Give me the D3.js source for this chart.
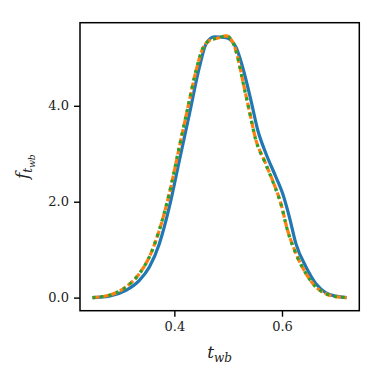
<!DOCTYPE html>
<html>
<head>
<meta charset="utf-8">
<script src="https://cdn.jsdelivr.net/npm/d3@7"></script>
<style>
  body { margin: 0; background: #fff; }
  text { font-family: "DejaVu Serif", "Liberation Serif", serif; }
</style>
</head>
<body>
<div id="chart"></div>
<script>
// t_wb grid and density values
let blueT = [0.248, 0.279, 0.310, 0.335, 0.3536, 0.372, 0.3907, 0.4093, 0.428, 0.4464, 0.4588, 0.4743, 0.496, 0.5145, 0.527, 0.5424, 0.555, 0.5703, 0.5889, 0.6012, 0.6137, 0.626, 0.6446, 0.663, 0.6817, 0.700, 0.72];
let blueF = [0, 0.03, 0.15, 0.36, 0.64, 1.12, 1.89, 2.86, 3.83, 4.8, 5.29, 5.44, 5.42, 5.22, 4.8, 4.11, 3.49, 3.0, 2.51, 2.17, 1.68, 1.12, 0.64, 0.29, 0.10, 0.03, 0];

let dashT = [0.248, 0.279, 0.310, 0.335, 0.3536, 0.372, 0.3907, 0.4093, 0.428, 0.4405, 0.4526, 0.465, 0.4836, 0.496, 0.5084, 0.5177, 0.527, 0.5393, 0.5517, 0.5672, 0.5826, 0.598, 0.6105, 0.626, 0.6446, 0.663, 0.6817, 0.700, 0.72];
let orangeF = [0, 0.05, 0.22, 0.5, 0.85, 1.40, 2.17, 3.14, 4.11, 4.74, 5.19, 5.36, 5.42, 5.46, 5.33, 5.01, 4.53, 3.90, 3.28, 2.86, 2.44, 1.96, 1.40, 0.92, 0.5, 0.22, 0.08, 0.02, 0];
let greenF = [0, 0.05, 0.22, 0.5, 0.85, 1.41, 2.18, 3.15, 4.12, 4.75, 5.19, 5.36, 5.42, 5.46, 5.33, 5.01, 4.52, 3.89, 3.27, 2.85, 2.43, 1.95, 1.39, 0.91, 0.5, 0.22, 0.08, 0.02, 0];

let xTicks = [0.4, 0.6];
let yTicks = [0, 2, 4];

let width = 382;
let height = 382;
let plotLeft = 80, plotRight = 359.3, plotTop = 22.7, plotBottom = 310.7;

let xScale = d3.scaleLinear().domain([0.2247, 0.7436]).range([plotLeft, plotRight]);
let yScale = d3.scaleLinear().domain([-0.273, 5.733]).range([plotBottom, plotTop]);

let svg = d3.select("#chart")
  .append("svg")
  .attr("width", width)
  .attr("height", height);

let line = d3.line()
  .x(d => xScale(d[0]))
  .y(d => yScale(d[1]))
  .curve(d3.curveMonotoneX);

/* curves */
let series = [
  { t: blueT, f: blueF, color: "#1f77b4", dash: null },
  { t: dashT, f: orangeF, color: "#ff7f0e", dash: "7,2.5" },
  { t: dashT, f: greenF, color: "#2ca02c", dash: "3,5" }
];

svg.append("g")
  .selectAll("path")
  .data(series)
  .enter()
  .append("path")
  .attr("d", s => line(s.t.map((t, i) => [t, s.f[i]])))
  .attr("fill", "none")
  .attr("stroke", s => s.color)
  .attr("stroke-width", 3.2)
  .attr("stroke-dasharray", s => s.dash);

/* axes */
let xAxis = d3.axisBottom(xScale).tickValues(xTicks).tickSizeOuter(0).tickSize(6).tickPadding(5).tickFormat(d3.format(".1f"));
let yAxis = d3.axisLeft(yScale).tickValues(yTicks).tickSizeOuter(0).tickSize(6).tickPadding(5).tickFormat(d3.format(".1f"));

let gx = svg.append("g")
  .attr("transform", `translate(0, ${plotBottom})`)
  .call(xAxis);
let gy = svg.append("g")
  .attr("transform", `translate(${plotLeft}, 0)`)
  .call(yAxis);

[gx, gy].forEach(g => {
  g.select(".domain").remove();
  g.selectAll(".tick line").attr("stroke", "#000").attr("stroke-width", 1.4);
  g.selectAll(".tick text").attr("fill", "#222").style("font-size", "13px")
    .style("font-family", "'DejaVu Serif', serif");
});

svg.append("rect")
  .attr("x", plotLeft)
  .attr("y", plotTop)
  .attr("width", plotRight - plotLeft)
  .attr("height", plotBottom - plotTop)
  .attr("fill", "none")
  .attr("stroke", "#000")
  .attr("stroke-width", 1.5);

/* axis labels */
let xl = svg.append("text")
  .attr("x", (plotLeft + plotRight) / 2)
  .attr("y", 358)
  .attr("text-anchor", "middle")
  .attr("fill", "#222")
  .style("font-size", "17px")
  .style("font-style", "italic");
xl.append("tspan").text("t");
xl.append("tspan").attr("dy", 4).style("font-size", "12px").text("wb");

let yl = svg.append("text")
  .attr("transform", `translate(28, ${(plotTop + plotBottom) / 2}) rotate(-90)`)
  .attr("text-anchor", "middle")
  .attr("fill", "#222")
  .style("font-size", "17px")
  .style("font-style", "italic");
yl.append("tspan").text("f");
yl.append("tspan").attr("dy", 4).style("font-size", "12px").text("t");
yl.append("tspan").attr("dy", 3).style("font-size", "9px").text("wb");
</script>
</body>
</html>
